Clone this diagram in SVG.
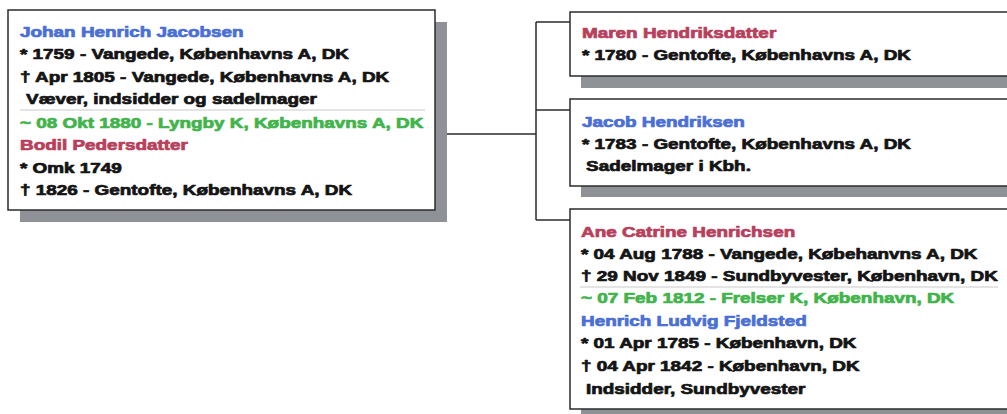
<svg xmlns="http://www.w3.org/2000/svg" width="1007" height="414" viewBox="0 0 1007 414">
<style>
.box{fill:#ffffff;stroke:#2b2b2b;stroke-width:1.5}
.shadow{fill:#8e9196}
.sep{stroke:#c9c9c9;stroke-width:1}
.conn{fill:none;stroke:#2b2b2b;stroke-width:1.5}
text{font-family:"Liberation Sans",Arial,sans-serif;font-weight:bold;font-size:14px;fill:#141414;stroke:#141414;stroke-width:0.7;stroke-linejoin:round}
.m{fill:#4a6fd6;stroke:#4a6fd6}
.f{fill:#b8405c;stroke:#b8405c}
.g{fill:#41b44b;stroke:#41b44b}
</style>
<rect width="1007" height="414" fill="#ffffff"/>
<g id="connectors">
<path class="conn" d="M435 134 H536 M536 22 V220 M536 22 H570 M536 110 H570 M536 220 H570"/>
</g>
<g id="node-johan">
<rect class="shadow" x="20" y="22" width="427" height="200"/>
<rect class="box" x="8" y="10" width="427" height="200"/>
<line class="sep" x1="20" y1="110" x2="425" y2="110"/>
<g transform="translate(20,0) scale(1.35,1)">
<text class="m" x="0" y="37">Johan Henrich Jacobsen</text>
<text x="0" y="59.5">* 1759 - Vangede, Københavns A, DK</text>
<text x="0" y="82">† Apr 1805 - Vangede, Københavns A, DK</text>
<text x="4.5" y="104.5">Væver, indsidder og sadelmager</text>
<text class="g" x="0" y="128">~ 08 Okt 1880 - Lyngby K, Københavns A, DK</text>
<text class="f" x="0" y="150.5">Bodil Pedersdatter</text>
<text x="0" y="173">* Omk 1749</text>
<text x="0" y="195.5">† 1826 - Gentofte, Københavns A, DK</text>
</g>
</g>
<g id="node-maren">
<rect class="shadow" x="581" y="23" width="440" height="65"/>
<rect class="box" x="570" y="12" width="450" height="64"/>
<g transform="translate(582,0) scale(1.35,1)">
<text class="f" x="0" y="38">Maren Hendriksdatter</text>
<text x="0" y="60.5">* 1780 - Gentofte, Københavns A, DK</text>
</g>
</g>
<g id="node-jacob">
<rect class="shadow" x="581" y="110" width="440" height="87"/>
<rect class="box" x="570" y="99" width="450" height="87"/>
<g transform="translate(582,0) scale(1.35,1)">
<text class="m" x="0" y="126.7">Jacob Hendriksen</text>
<text x="0" y="149.3">* 1783 - Gentofte, Københavns A, DK</text>
<text x="3" y="171.5">Sadelmager i Kbh.</text>
</g>
</g>
<g id="node-ane">
<rect class="shadow" x="581" y="220" width="440" height="200"/>
<rect class="box" x="570" y="209" width="450" height="200"/>
<line class="sep" x1="580" y1="287" x2="998" y2="287"/>
<g transform="translate(581,0) scale(1.35,1)">
<text class="f" x="0" y="236.7">Ane Catrine Henrichsen</text>
<text x="0" y="259.3">* 04 Aug 1788 - Vangede, Købehanvns A, DK</text>
<text x="0" y="281.5">† 29 Nov 1849 - Sundbyvester, København, DK</text>
<text class="g" x="0" y="303.5">~ 07 Feb 1812 - Frelser K, København, DK</text>
<text class="m" x="0" y="326">Henrich Ludvig Fjeldsted</text>
<text x="0" y="348.5">* 01 Apr 1785 - København, DK</text>
<text x="0" y="371">† 04 Apr 1842 - København, DK</text>
<text x="3.7" y="394.3">Indsidder, Sundbyvester</text>
</g>
</g>
</svg>
